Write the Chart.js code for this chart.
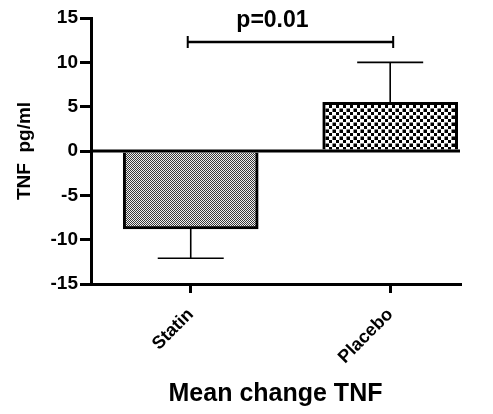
<!DOCTYPE html>
<html>
<head>
<meta charset="utf-8">
<script src="https://cdn.jsdelivr.net/npm/chart.js@4"></script>
<style>
html,body{margin:0;padding:0;background:#fff;}
#wrap{width:493px;height:414px;}
</style>
</head>
<body>
<div id="wrap"><canvas id="c" width="493" height="414"></canvas></div>
<script>
// ---- data ----
const categories = ['Statin', 'Placebo'];
const meanChange = [-8.8, 5.5];
const errorSEM = [3.3, 4.5];
const yTicks = [-15, -10, -5, 0, 5, 10, 15];
const pValueLabel = 'p=0.01';
const bracketLevel = 12.3;
const yTitle = 'TNF  pg/ml';
const xTitle = 'Mean change TNF';

const FONT = "'Liberation Sans', Arial, Helvetica, sans-serif";

function makePattern(kind) {
  const c = document.createElement('canvas');
  const ctx = c.getContext('2d');
  if (kind === 'fine') {
    c.width = 2; c.height = 2;
    ctx.fillStyle = '#f0f0f0'; ctx.fillRect(0, 0, 2, 2);
    ctx.fillStyle = '#3a3a3a'; ctx.fillRect(0, 0, 1, 1); ctx.fillRect(1, 1, 1, 1);
  } else {
    c.width = 7; c.height = 7;
    ctx.fillStyle = '#fff'; ctx.fillRect(0, 0, 7, 7);
    ctx.fillStyle = '#000';
    ctx.fillRect(0, 0, 3, 3); ctx.fillRect(3.5, 3.5, 3.5, 3.5);
  }
  return ctx.createPattern(c, 'repeat');
}
const fills = [makePattern('fine'), makePattern('coarse')];

const extrasPlugin = {
  id: 'extras',
  afterDatasetsDraw(chart) {
    const ctx = chart.ctx;
    const xs = chart.scales.x, ys = chart.scales.y;
    const area = chart.chartArea;
    const meta = chart.getDatasetMeta(0);
    ctx.save();
    // error bars
    ctx.strokeStyle = '#000';
    ctx.lineWidth = 1.6;
    meta.data.forEach((el, i) => {
      const v = meanChange[i];
      const end = v + Math.sign(v) * errorSEM[i];
      const x = el.x;
      const y0 = ys.getPixelForValue(v);
      const y1 = ys.getPixelForValue(end);
      ctx.beginPath();
      ctx.moveTo(x, y0); ctx.lineTo(x, y1);
      ctx.moveTo(x - 33, y1); ctx.lineTo(x + 33, y1);
      ctx.stroke();
    });
    // zero line
    const yz = ys.getPixelForValue(0);
    ctx.lineWidth = 3;
    ctx.beginPath();
    ctx.moveTo(area.left, yz); ctx.lineTo(area.right, yz);
    ctx.stroke();
    // significance bracket
    const bx0 = xs.getPixelForValue(0) - 3;
    const bx1 = xs.getPixelForValue(1) + 3;
    const by = ys.getPixelForValue(bracketLevel);
    ctx.lineWidth = 2.5;
    ctx.beginPath();
    ctx.moveTo(bx0, by); ctx.lineTo(bx1, by);
    ctx.stroke();
    ctx.lineWidth = 2;
    ctx.beginPath();
    ctx.moveTo(bx0, by - 6); ctx.lineTo(bx0, by + 6);
    ctx.moveTo(bx1, by - 6); ctx.lineTo(bx1, by + 6);
    ctx.stroke();
    ctx.fillStyle = '#000';
    ctx.font = 'bold 23px ' + FONT;
    ctx.textAlign = 'center';
    ctx.textBaseline = 'alphabetic';
    ctx.fillText(pValueLabel, (bx0 + bx1) / 2 - 18, by - 15);
    ctx.restore();
  }
};

new Chart(document.getElementById('c'), {
  type: 'bar',
  data: {
    datasets: [{
      data: categories.map((c, i) => ({ x: i, y: meanChange[i] })),
      backgroundColor: fills,
      borderColor: '#000',
      borderWidth: 3,
      borderSkipped: 'start',
      barThickness: 135
    }]
  },
  options: {
    responsive: false,
    animation: false,
    devicePixelRatio: 1,
    layout: { padding: { top: 18, right: 33, left: 0, bottom: 0 } },
    plugins: { legend: { display: false }, tooltip: { enabled: false } },
    scales: {
      x: {
        type: 'linear',
        min: -0.5,
        max: 1.35,
        offset: false,
        afterBuildTicks(scale) { scale.ticks = categories.map((c, i) => ({ value: i })); },
        afterFit(scale) { scale.height = 130; },
        ticks: {
          callback: (v) => categories[v],
          minRotation: 45, maxRotation: 45,
          autoSkip: false,
          padding: 11,
          color: '#000',
          font: { family: FONT, size: 18, weight: 'bold' }
        },
        grid: { drawOnChartArea: false, drawTicks: true, tickLength: 9, lineWidth: 3, color: '#000', offset: false },
        border: { display: true, color: '#000', width: 3 },
        title: {
          display: true, text: xTitle, color: '#000',
          font: { family: FONT, size: 25, weight: 'bold' },
          padding: { top: 4, bottom: 5 }
        }
      },
      y: {
        min: -15, max: 15,
        afterBuildTicks(scale) { scale.ticks = yTicks.map(v => ({ value: v })); },
        afterFit(scale) { scale.width = 91; },
        ticks: {
          color: '#000', padding: 2,
          font: { family: FONT, size: 19, weight: 'bold' }
        },
        grid: { drawOnChartArea: false, drawTicks: true, tickLength: 11, lineWidth: 3, color: '#000' },
        border: { display: true, color: '#000', width: 3 },
        title: {
          display: true, text: yTitle, color: '#000',
          font: { family: FONT, size: 19, weight: 'bold' },
          padding: { top: 13, bottom: 0 }
        }
      }
    }
  },
  plugins: [extrasPlugin]
});
</script>
</body>
</html>
